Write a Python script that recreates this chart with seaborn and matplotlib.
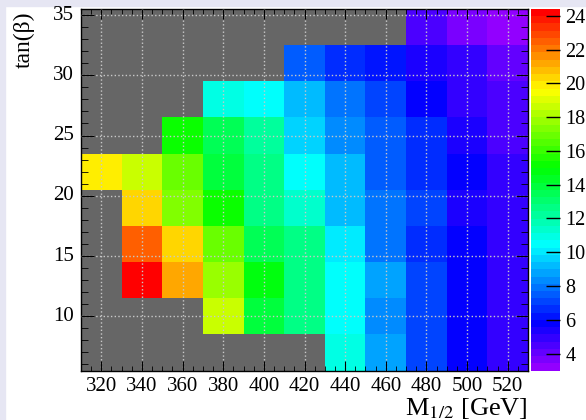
import colorsys
import numpy as np
import pandas as pd
import matplotlib
matplotlib.use("Agg")
import matplotlib.pyplot as plt
from matplotlib.colors import ListedColormap
from matplotlib.patches import Rectangle
import seaborn as sns

# M_1/2 bin centres [GeV] and tan(beta) bin centres (top row first)
m_half = [320, 340, 360, 380, 400, 420, 440, 460, 480, 500, 520]
tan_beta = [34, 31, 28, 25, 22, 19, 16, 13, 10, 7]

nan = np.nan
z_tb34 = [nan, nan, nan, nan, nan, nan, nan, nan, 4.3, 3.6, 3.0]
z_tb31 = [nan, nan, nan, nan, nan, 7.5, 6.8, 6.3, 5.5, 4.9, 4.1]
z_tb28 = [nan, nan, nan, 10.9, 10.5, 9.2, 8.1, 7.0, 5.9, 5.1, 4.3]
z_tb25 = [nan, nan, 15.0, 13.4, 12.0, 9.6, 8.5, 7.4, 6.5, 5.2, 4.6]
z_tb22 = [20.1, 18.7, 16.9, 13.9, 12.7, 10.4, 9.3, 7.7, 6.8, 5.6, 4.8]
z_tb19 = [nan, 20.4, 17.3, 15.0, 12.7, 11.4, 9.3, 8.0, 7.0, 5.5, 4.9]
z_tb16 = [nan, 22.5, 20.4, 16.9, 13.5, 12.5, 10.1, 7.8, 6.8, 5.6, 4.9]
z_tb13 = [nan, 24.4, 21.0, 17.8, 14.6, 12.8, 10.4, 8.6, 7.1, 5.9, 5.0]
z_tb10 = [nan, nan, nan, 18.7, 13.9, 12.6, 10.7, 8.3, 7.0, 5.9, 5.1]
z_tb7 = [nan, nan, nan, nan, nan, nan, 10.8, 8.9, 7.1, 5.9, 5.1]

cbar_ticks = [4, 6, 8, 10, 12, 14, 16, 18, 20, 22, 24]
x_major = [320, 340, 360, 380, 400, 420, 440, 460, 480, 500, 520]
y_major = [10, 15, 20, 25, 30, 35]

df = pd.DataFrame([z_tb34, z_tb31, z_tb28, z_tb25, z_tb22, z_tb19, z_tb16,
                   z_tb13, z_tb10, z_tb7], index=tan_beta, columns=m_half)

# ROOT "pretty palette": 50 colours, hue 280 -> 0
hues = [280 - (i + 1) * 280 / 50 for i in range(49)] + [0]
cmap = ListedColormap([colorsys.hls_to_rgb(h / 360, 0.5, 1.0) for h in hues])

plt.rcParams['font.family'] = ['Liberation Serif', 'DejaVu Serif']
plt.rcParams['mathtext.fontset'] = 'stix'

fig = plt.figure(figsize=(5.86, 4.2), dpi=100)
ax = fig.add_axes([81 / 586, 49.5 / 420, 447 / 586, 361.5 / 420])
cax = fig.add_axes([531 / 586, 49.5 / 420, 29 / 586, 361.5 / 420])

ax.set_facecolor('#666666')
sns.heatmap(df, ax=ax, cmap=cmap, vmin=3.0, vmax=24.4, cbar_ax=cax,
            linewidths=0)

# map physical values onto heatmap cell coordinates
x0, dx = 310, 20
y_top, dy = 35.5, 3
ax.set_xticks([(v - x0) / dx for v in x_major], [str(v) for v in x_major])
ax.set_xticks([(v - x0) / dx for v in np.arange(310, 531, 5)], minor=True)
ax.set_yticks([(y_top - v) / dy for v in y_major], [str(v) for v in y_major])
ax.set_yticks([(y_top - v) / dy for v in np.arange(6, 36, 1)], minor=True)
ax.tick_params(axis='y', labelrotation=0)

for s in ax.spines.values():
    s.set_visible(True)
    s.set_color('black')
    s.set_linewidth(1)

ax.tick_params(which='both', direction='in', top=True, right=True,
               labelsize=15, color='black')
ax.tick_params(axis='x', which='major', length=7, pad=5)
ax.tick_params(axis='x', which='minor', length=3.5)
ax.tick_params(axis='y', which='major', length=9, pad=5)
ax.tick_params(axis='y', which='minor', length=5)

ax.set_axisbelow(False)
ax.grid(True, which='major', color='#c8c8c8', linestyle=':', linewidth=1)
ax.set_xlabel('')
ax.set_ylabel('')

cbar = ax.collections[0].colorbar
cbar.outline.set_visible(False)
cbar.set_ticks(cbar_ticks)
cax.tick_params(direction='in', length=10, width=1, color='black',
                labelsize=14.5, pad=4)
cax.minorticks_off()

fig.text(528 / 586, 5 / 420, r'M$_{1/2}$ [GeV]', ha='right', va='baseline',
         fontsize=19)
fig.text(24 / 586, 1 - 12 / 420, 'tan(β)', rotation=90, ha='center',
         va='top', fontsize=17)

# light frame strip seen along the top and left of the picture
fig.patches.append(Rectangle((0, 1 - 6 / 420), 1, 6 / 420,
                             transform=fig.transFigure, color='#e6e6f3',
                             zorder=-1))
fig.patches.append(Rectangle((0, 0), 5 / 586, 1, transform=fig.transFigure,
                             color='#e6e6f3', zorder=-1))

fig.savefig('out.png', dpi=100)
